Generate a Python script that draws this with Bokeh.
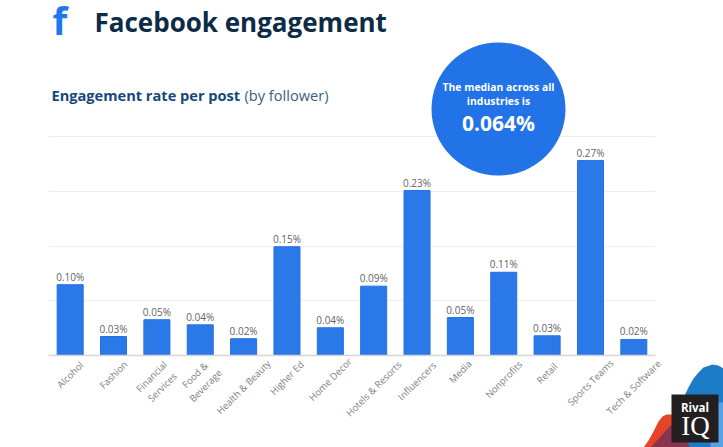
from bokeh.plotting import figure
from bokeh.models import ColumnDataSource, Range1d, FixedTicker, Label, BoxAnnotation, PolyAnnotation
from bokeh.core.properties import value
from bokeh.embed import file_html
from bokeh.resources import INLINE
import math

categories = ["Alcohol", "Fashion", "Financial Services", "Food & Beverage", "Health & Beauty", "Higher Ed",
              "Home Decor", "Hotels & Resorts", "Influencers", "Media", "Nonprofits", "Retail",
              "Sports Teams", "Tech & Software"]
tick_labels = ["Alcohol", "Fashion", "Financial\nServices", "Food &\nBeverage", "Health & Beauty", "Higher Ed",
               "Home Decor", "Hotels & Resorts", "Influencers", "Media", "Nonprofits", "Retail",
               "Sports Teams", "Tech & Software"]
values = [0.097, 0.026, 0.049, 0.042, 0.023, 0.149, 0.038, 0.095, 0.226, 0.052, 0.114, 0.027, 0.267, 0.022]
value_labels = ["0.10%", "0.03%", "0.05%", "0.04%", "0.02%", "0.15%", "0.04%", "0.09%", "0.23%", "0.05%",
                "0.11%", "0.03%", "0.27%", "0.02%"]
grid_ticks = [0.075, 0.15, 0.225, 0.30]

W, H = 723, 447
L, R, BASE = 48, 655, 355
FONT = "Open Sans"
px_per_cat = (R - L) / len(categories)
px_per_val = 730.0

p = figure(width=W, height=H,
           x_range=Range1d(-L / px_per_cat, (W - L) / px_per_cat),
           y_range=Range1d(-(H - BASE) / px_per_val, BASE / px_per_val),
           output_backend="svg", toolbar_location=None,
           min_border_left=0, min_border_right=0, min_border_top=0, min_border_bottom=0,
           outline_line_color=None, background_fill_color="white", border_fill_color="white")


def tick_offset(text):
    lines = text.split("\n")
    extent = 3.1 * max(len(s) for s in lines) + 1 + 8 * (len(lines) - 1)
    return 8 + extent / 2


xs = [i + 0.5 for i in range(len(categories))]
src = ColumnDataSource(dict(x=xs, val=values, lab=value_labels, tick=tick_labels,
                            zero=[0] * len(categories), off=[tick_offset(t) for t in tick_labels]))
p.vbar(x="x", top="val", width=0.6, source=src, fill_color="#2b78e8", line_color="#2570e6", line_width=1)
p.text(x="x", y="val", text="lab", source=src, text_align="center", text_baseline="bottom", y_offset=-1,
       text_font=value(FONT), text_font_size="10px", text_color="#5f6368")
p.text(x="x", y="zero", text="tick", y_offset="off", source=src, angle=math.pi / 4,
       text_align="center", text_baseline="middle", text_font=value(FONT), text_font_size="9.5px",
       text_color="#7c7f83", text_line_height=1.15)

p.xgrid.visible = False
p.ygrid.ticker = FixedTicker(ticks=grid_ticks)
p.ygrid.grid_line_color = "#efefef"
p.ygrid.cross_bounds = (0, len(categories))
p.yaxis.visible = False
ax = p.xaxis[0]
ax.fixed_location = 0
ax.bounds = (0, len(categories))
ax.ticker = FixedTicker(ticks=[])
ax.axis_line_color = "#d6d6d6"
ax.axis_line_width = 1.5
ax.major_tick_line_color = None
ax.minor_tick_line_color = None


def sy(y):
    return H - y


def sx(x):
    return x


def label(x, y, text, size, color, style="normal", align="left", font=FONT):
    p.add_layout(Label(x=sx(x), y=sy(y), x_units="screen", y_units="screen", text=text, text_font=font,
                       text_font_size=size, text_color=color, text_font_style=style, text_align=align,
                       text_baseline="middle"))


def poly(xs, ys, color, alpha=1.0):
    p.add_layout(PolyAnnotation(xs=[sx(v) for v in xs], ys=[sy(v) for v in ys], xs_units="screen", ys_units="screen",
                                fill_color=color, fill_alpha=alpha, line_color=None, editable=False))


def box(left, right, top, bottom, color, radius=0):
    p.add_layout(BoxAnnotation(left=sx(left), right=sx(right), top=sy(top), bottom=sy(bottom), left_units="screen",
                               right_units="screen", top_units="screen", bottom_units="screen",
                               fill_color=color, fill_alpha=1, line_color=None, border_radius=radius))


label(52, 19, "f", "38px", "#1f78f0", "bold")
label(94, 21, "Facebook engagement", "26px", "#0c2b46", "bold")
label(51, 94, "Engagement rate per post", "14.6px", "#17477c", "bold")
label(244, 94, "(by follower)", "14.6px", "#3d5c7d")

box(431, 565, 42, 175, "#2272e8", 67)
label(498, 86, "The median across all", "10.4px", "white", "bold", "center")
label(498, 100, "industries is", "10.4px", "white", "bold", "center")
label(498, 122, "0.064%", "21px", "white", "bold", "center")

poly([685, 689, 693, 698, 703, 712, 718, 723, 723, 685], [393, 385, 378, 372, 367, 364, 365, 368, 447, 447], "#1d7cc8")
poly([710, 723, 723, 710], [447, 447, 402, 402], "#55a2e6")
poly([643, 648, 653, 658, 662, 666, 671, 680, 680], [447, 440, 431, 421, 416, 414, 414, 430, 447], "#e5442b")
poly([650, 660, 671, 685, 690], [447, 436, 424, 440, 447], "#8a3550")
box(671, 718, 394, 442, "#231f20")
label(694.5, 407, "Rival", "11.5px", "white", "bold", "center")
label(695, 425, "IQ", "27px", "white", "normal", "center", "Liberation Serif")

open("out.html", "w").write(file_html(p, INLINE))
